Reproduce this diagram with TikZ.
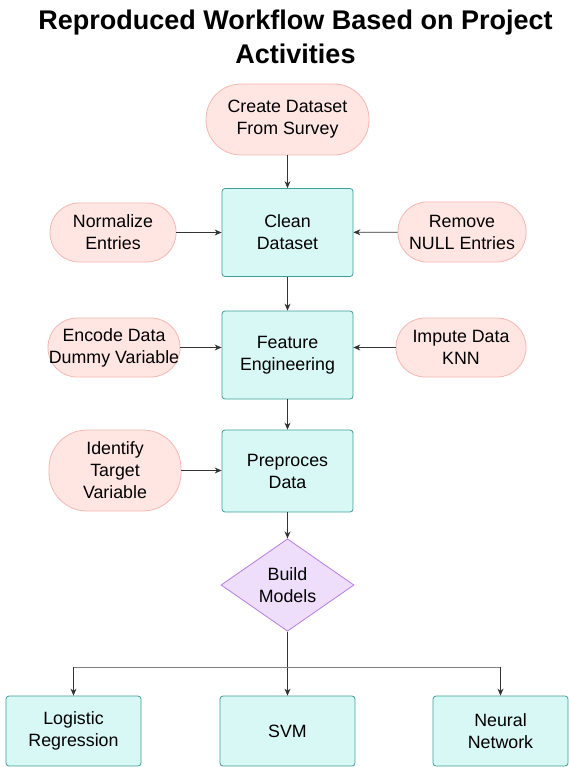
\documentclass[tikz,border=0pt]{standalone}
\usepackage{fontspec}
\setmainfont{Liberation Sans}
\usetikzlibrary{shapes.geometric,arrows.meta}
\definecolor{pinkfill}{HTML}{FFE6E3}
\definecolor{pinkline}{HTML}{F5B8B1}
\definecolor{tealfill}{HTML}{D8F8F6}
\definecolor{tealline}{HTML}{3F9E98}
\definecolor{violetfill}{HTML}{EEDDFB}
\definecolor{violetline}{HTML}{B67FE0}
\definecolor{edgegray}{HTML}{333333}
\begin{document}
\begin{tikzpicture}[x=1pt,y=-1pt,
  txt/.style={font=\fontsize{17.8}{22}\selectfont, align=center, text=black},
  pill/.style={txt, draw=pinkline, fill=pinkfill, line width=0.8pt, rounded corners=29pt, inner sep=0pt},
  stepbox/.style={txt, draw=tealline, fill=tealfill, line width=0.8pt, rounded corners=3pt, inner sep=0pt, minimum width=131pt, minimum height=88pt},
  leafbox/.style={txt, draw=tealline, fill=tealfill, line width=0.8pt, rounded corners=3pt, inner sep=0pt, minimum width=135pt, minimum height=70pt},
  decision/.style={txt, diamond, draw=violetline, fill=violetfill, line width=0.8pt, inner sep=0pt, minimum width=133pt, minimum height=90pt},
  flow/.style={draw=edgegray, line width=0.8pt, -{Stealth[length=7pt,width=6pt]}},
  branch/.style={draw=gray, line width=1pt}
]
\useasboundingbox (0,0) rectangle (569,767);
\fill[white] (0,0) rectangle (569,767);

% title
\node[font=\fontsize{27}{34}\selectfont\bfseries, align=center] (title) at (295.5,37)
  {Reproduced Workflow Based on Project\\Activities};

% main column
\node[pill, minimum width=163pt, minimum height=71pt, rounded corners=35pt] (create) at (287.5,119.5) {Create Dataset\\From Survey};
\node[stepbox] (clean) at (287.5,232.5) {Clean\\Dataset};
\node[stepbox] (feature) at (287.5,355) {Feature\\Engineering};
\node[stepbox, minimum height=82pt] (prep) at (287.5,471) {Preproces\\Data};
\node[decision] (build) at (287.5,585) {Build\\Models};

% side inputs
\node[pill, minimum width=126pt, minimum height=59pt] (norm) at (113,232.5) {Normalize\\Entries};
\node[pill, minimum width=128pt, minimum height=60pt] (remove) at (462,232) {Remove\\NULL Entries};
\node[pill, minimum width=132pt, minimum height=59pt] (encode) at (114,347.5) {Encode Data\\Dummy Variable};
\node[pill, minimum width=130pt, minimum height=59pt] (impute) at (461,347.5) {Impute Data\\KNN};
\node[pill, minimum width=132pt, minimum height=81pt, rounded corners=38pt] (target) at (115,470.5) {Identify\\Target\\Variable};

% models
\node[leafbox] (logit) at (73.5,731) {Logistic\\Regression};
\node[leafbox] (svm) at (287.5,731) {SVM};
\node[leafbox] (neural) at (500.5,731) {Neural\\Network};

% connectors
\draw[flow] (create) -- (clean);
\draw[flow] (clean) -- (feature);
\draw[flow] (feature) -- (prep);
\draw[flow] (prep) -- (build);
\draw[flow] (build) -- (svm);
\draw[flow] (norm) -- (clean);
\draw[flow] (remove) -- (clean);
\draw[flow] (encode) -- (feature.west |- encode);
\draw[flow] (impute) -- (feature.east |- impute);
\draw[flow] (target) -- (prep.west |- target);

\coordinate (split) at (287.5,667);
\coordinate (lsplit) at (logit.north |- split);
\coordinate (rsplit) at (neural.north |- split);
\draw[branch] (lsplit) -- (rsplit);
\draw[flow] (lsplit) -- (logit);
\draw[flow] (rsplit) -- (neural);
\end{tikzpicture}
\end{document}
